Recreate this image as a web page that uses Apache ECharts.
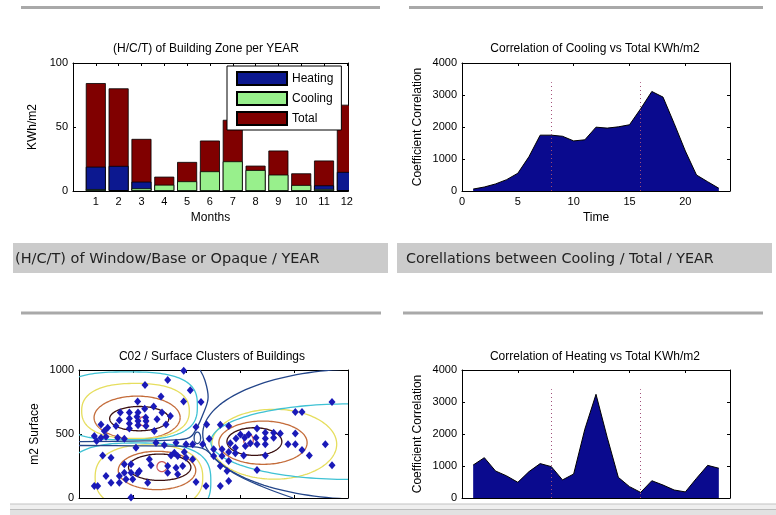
<!DOCTYPE html>
<html><head><meta charset="utf-8">
<script src="https://cdn.jsdelivr.net/npm/echarts/dist/echarts.min.js"></script>
<style>html,body{margin:0;padding:0;background:#fff}#c{width:776px;height:515px}</style>
</head><body><div id="c"></div>
<script>
// ---------- data ----------
const months = [1,2,3,4,5,6,7,8,9,10,11,12];
const heating = [19.0,19.6,7.3,0.3,0,0,0,0,0,0,4.4,14.9];
const cooling = [1.5,0.6,2.1,4.9,7.6,15.4,23.2,16.4,12.8,4.7,1.6,0.4];
const totals  = [84.3,80.2,40.7,11.2,22.7,39.4,55.6,19.8,31.6,13.8,23.8,67.4];
const barNames = ['Heating','Cooling','Total'];

const timeSteps = [1,2,3,4,5,6,7,8,9,10,11,12,13,14,15,16,17,18,19,20,21,22,23];
const coolingCorr = [60,125,220,355,555,1075,1745,1745,1710,1565,1600,1995,1965,2005,2070,2570,3110,2935,2110,1250,500,290,85];
const heatingCorr = [1030,1260,845,690,490,825,1075,980,565,750,2150,3240,1900,645,355,175,540,405,250,190,615,1020,930];
const dividerTimes = [8,16];
const dividerTop = 3400;

const clusterX = [1.090,1.388,1.221,1.524,0.768,0.936,1.097,1.543,1.698,1.078,1.239,0.936,0.750,1.097,1.245,1.450,0.936,1.097,1.245,0.688,0.533,0.409,0.471,0.936,1.617,1.400,1.945,2.268,2.069,2.175,2.373,2.420,0.285,0.328,0.409,0.502,0.719,0.843,1.431,1.586,1.803,1.989,2.113,2.299,1.772,1.059,0.595,0.440,1.958,1.710,1.834,1.989,1.307,0.967,0.843,1.338,1.648,1.803,1.927,2.113,1.121,0.843,0.967,1.090,1.648,1.834,0.874,0.998,0.750,0.502,0.595,0.750,2.175,2.361,1.276,0.347,0.285,0.967,1.227,1.946,1.648,
  4.703,4.021,4.145,2.627,2.782,3.309,3.463,3.618,3.742,4.021,2.999,3.154,2.918,3.079,3.290,3.463,3.618,2.813,3.185,3.309,3.463,3.885,4.021,4.579,2.906,3.092,2.503,2.658,2.782,2.906,3.061,3.463,4.145,4.281,2.503,2.658,2.782,2.627,3.309,4.703,2.782,2.627,2.751];
const clusterY = [753,714,698,792,667,667,667,667,641,635,628,622,607,602,602,615,583,568,562,562,549,575,523,542,575,523,753,750,841,555,575,463,484,445,471,479,471,463,432,414,432,419,419,419,354,393,315,333,359,333,328,315,302,263,263,255,250,237,250,302,211,198,198,193,198,185,146,146,172,172,120,120,125,94,120,94,94,3,883,995,922,
  750,672,672,573,562,542,510,510,503,503,497,497,464,471,471,464,471,427,427,419,419,419,419,419,393,406,380,380,359,349,333,333,375,333,328,328,289,250,219,255,133,94,211];

// closed contour curves (data units): centre, half-axes, squareness, level
const contourCx    = [1.12,1.08,1.05,0.90,1.20, 1.54,1.50,1.45,1.30,1.10, 3.15,3.26,3.42,3.63,5.00,5.30, 2.20];
const contourCy    = [620,628,680,720,600, 245,240,215,160,130, 453,441,432,420,440,500, 470];
const contourRx    = [0.55,0.80,1.00,1.30,0.08, 0.09,0.58,0.72,1.00,1.35, 0.09,0.51,0.82,1.16,2.55,3.00, 0.06];
const contourRy    = [95,168,215,265,35, 39,103,150,255,300, 45,108,169,273,295,510, 45];
const contourShape = [2,2,2.4,2.8,2, 2,2,2,2.4,2.8, 2,2,2,2,2,2, 2];
const contourLevel = [4,3,2,1,5, 5,4,3,2,1, 5,4,3,2,1,0, 0];
const contourColors = ['#24468a','#3fc2d4','#e6de5e','#c46c3a','#3a1010','#cc5a5a'];
// open outer contour lines (data units)
const navyUpperX = [0,1.0,1.7,2.05,2.18,2.32,2.40,2.34,2.25];
const navyUpperY = [440,445,452,472,540,670,790,920,1000];
const navyLowerX = [0,1.0,1.8,2.2,2.36,2.55,2.87,3.40,3.98];
const navyLowerY = [410,408,405,398,375,300,195,90,0];

// ---------- chart ----------
const F = "'Liberation Sans', Arial, Helvetica, sans-serif";
const HF = "'DejaVu Sans', Verdana, sans-serif";
const chart = echarts.init(document.getElementById('c'), null, {renderer:'canvas'});

const grids = [
  {left:73, top:63, width:275, height:128},
  {left:462, top:63, width:268, height:128},
  {left:79, top:370, width:269, height:128},
  {left:462, top:370, width:268, height:128}
];
const line = {show:true, onZero:false, lineStyle:{color:'#000', width:1}};
const tick = {show:true, inside:true, length:3, lineStyle:{color:'#000', width:1}};
const lbl = {color:'#000', fontFamily:F, fontSize:11, margin:5};
function ax(grid, pos, min, max, interval, labelFn, name, nameGap) {
  const a = {gridIndex:grid, type:'value', position:pos, min:min, max:max, interval:interval,
    axisLine:line, axisTick:tick, splitLine:{show:false},
    axisLabel: labelFn ? Object.assign({formatter:labelFn, showMinLabel:true, showMaxLabel:true}, lbl) : {show:false}};
  if (name) {
    a.name = name; a.nameLocation = 'middle'; a.nameGap = nameGap;
    a.nameTextStyle = {color:'#000', fontFamily:F, fontSize:12};
  }
  return a;
}
const monthFmt = v => (Math.abs(v - Math.round(v)) < 1e-6 && v >= 1 && v <= 12) ? String(Math.round(v)) : '';
const fiveFmt = v => (v % 5 === 0) ? String(v) : '';
const plainFmt = v => String(v);

const xAxis = [
  ax(0,'bottom',0,12.05,1,monthFmt,'Months',21),
  ax(0,'top',0,12.05,1,null),
  ax(1,'bottom',0,24,5,fiveFmt,'Time',21),
  ax(1,'top',0,24,5,null),
  ax(2,'bottom',0,5,1,null),
  ax(2,'top',0,5,1,null),
  ax(3,'bottom',0,24,5,null),
  ax(3,'top',0,24,5,null)
];
const yAxis = [
  ax(0,'left',0,100,50,plainFmt,'KWh/m2',34),
  ax(0,'right',0,100,50,null),
  ax(1,'left',0,4000,1000,plainFmt,'Coefficient Correlation',38),
  ax(1,'right',0,4000,1000,null),
  ax(2,'left',0,1000,500,plainFmt,'m2 Surface',38),
  ax(2,'right',0,1000,500,null),
  ax(3,'left',0,4000,1000,plainFmt,'Coefficient Correlation',38),
  ax(3,'right',0,4000,1000,null)
];
xAxis.forEach(a => a.nameTextStyle && (a.nameTextStyle.verticalAlign = 'top'));

const barBorder = {borderColor:'#000', borderWidth:0.8};
const series = [
  {name:'Total', type:'bar', xAxisIndex:0, yAxisIndex:0, barWidth:20, barGap:'-100%', clip:true,
   data: months.map((m,i)=>[m, totals[i]]), itemStyle:Object.assign({color:'#800000'}, barBorder)},
  {name:'Heating', type:'bar', xAxisIndex:0, yAxisIndex:0, stack:'hc', barWidth:20, barGap:'-100%', clip:true,
   data: months.map((m,i)=>[m, heating[i]]), itemStyle:Object.assign({color:'#0c1890'}, barBorder)},
  {name:'Cooling', type:'bar', xAxisIndex:0, yAxisIndex:0, stack:'hc', barWidth:20, barGap:'-100%', clip:true,
   data: months.map((m,i)=>[m, cooling[i]]), itemStyle:Object.assign({color:'#98f08c'}, barBorder)}
];
function areaSeries(xi, yi, vals) {
  return {type:'line', xAxisIndex:xi, yAxisIndex:yi, symbol:'none', smooth:false,
    data: timeSteps.map((t,i)=>[t, vals[i]]),
    lineStyle:{color:'#000', width:1}, areaStyle:{color:'#0a0a8e', opacity:1},
    markLine:{symbol:'none', silent:true, label:{show:false}, animation:false,
      lineStyle:{type:[1,3], color:'#a0507a', width:1},
      data: dividerTimes.map(t => [{coord:[t,0]},{coord:[t,dividerTop]}])}};
}
series.push(areaSeries(2,2,coolingCorr));
series.push(areaSeries(6,6,heatingCorr));
series.push({type:'custom', xAxisIndex:4, yAxisIndex:4, clip:true, z:1,
  data: contourCx.map((c,i)=>[c, contourCy[i], contourRx[i], contourRy[i], contourShape[i], contourLevel[i]]),
  encode:{x:0, y:1},
  renderItem:(params, api) => {
    const c = api.coord([api.value(0), api.value(1)]);
    const s = api.size([api.value(2), api.value(3)]);
    const p = api.value(4);
    const pts = [];
    for (let k=0;k<=160;k++){
      const t = k/160*2*Math.PI, ct = Math.cos(t), st = Math.sin(t);
      pts.push([c[0] + s[0]*Math.sign(ct)*Math.pow(Math.abs(ct), 2/p),
                c[1] - s[1]*Math.sign(st)*Math.pow(Math.abs(st), 2/p)]);
    }
    return {type:'polyline', shape:{points:pts}, style:{stroke:contourColors[api.value(5)], fill:null, lineWidth:1.3}};
  }});
[[navyUpperX, navyUpperY],[navyLowerX, navyLowerY]].forEach(([xs, ys]) => {
  series.push({type:'line', xAxisIndex:4, yAxisIndex:4, z:1, symbol:'none', smooth:0.4, clip:true,
    data: xs.map((x,i)=>[x, ys[i]]), lineStyle:{color:contourColors[0], width:1.3}});
});
series.push({type:'scatter', xAxisIndex:4, yAxisIndex:4, z:3, symbol:'diamond', symbolSize:[7,8],
  data: clusterX.map((x,i)=>[x, clusterY[i]]), itemStyle:{color:'#1a1ab8', opacity:1}});

function txt(x, y, s, font, align, fill) {
  return {type:'text', silent:true, z:10, style:{text:s, x:x, y:y, font:font, fill:fill||'#000',
    textAlign:align||'center', textVerticalAlign:'middle'}};
}
const graphic = [
  {type:'rect', silent:true, shape:{x:21, y:6, width:359, height:3}, style:{fill:'#a9a9a9'}},
  {type:'rect', silent:true, shape:{x:409, y:6, width:354, height:3}, style:{fill:'#a9a9a9'}},
  {type:'rect', silent:true, shape:{x:21, y:311.5, width:360, height:3}, style:{fill:'#a9a9a9'}},
  {type:'rect', silent:true, shape:{x:403, y:311.5, width:360, height:3}, style:{fill:'#a9a9a9'}},
  {type:'rect', silent:true, shape:{x:13, y:243, width:375, height:30}, style:{fill:'#cbcbcb'}},
  {type:'rect', silent:true, shape:{x:397, y:243, width:375, height:30}, style:{fill:'#cbcbcb'}},
  txt(15, 259, '(H/C/T) of Window/Base or Opaque / YEAR', "14.5px " + HF, 'left', '#222'),
  txt(406, 259, 'Corellations between Cooling / Total / YEAR', "14.3px " + HF, 'left', '#222'),
  txt(206, 49, '(H/C/T) of Building Zone per YEAR', "12px " + F),
  txt(595, 49, 'Correlation of Cooling vs Total KWh/m2', "12px " + F),
  txt(212, 357, 'C02 / Surface Clusters of Buildings', "12px " + F),
  txt(595, 357, 'Correlation of Heating vs Total KWh/m2', "12px " + F),
  // page background beyond the right edge of the bar plot (bars on a value axis are not clipped sideways)
  {type:'rect', silent:true, z:100, shape:{x:349, y:58, width:14, height:135}, style:{fill:'#ffffff'}},
  {type:'rect', silent:true, z:20, shape:{x:10, y:504, width:766, height:11}, style:{fill:'#e2e2e2'}},
  {type:'rect', silent:true, z:21, shape:{x:10, y:504, width:766, height:5}, style:{fill:'#efefef'}},
  {type:'rect', silent:true, z:21, shape:{x:10, y:503.5, width:766, height:1}, style:{fill:'#c4c4c4'}},
  {type:'rect', silent:true, z:21, shape:{x:10, y:509, width:766, height:1}, style:{fill:'#bdbdbd'}}
];

chart.setOption({
  animation:false,
  backgroundColor:'#ffffff',
  grid: grids,
  xAxis: xAxis,
  yAxis: yAxis,
  legend: {data:barNames, orient:'vertical', left:227, top:66, backgroundColor:'#fff', borderColor:'#000', borderWidth:1,
    borderRadius:0, padding:[5,8,4,9], itemWidth:50, itemHeight:13, itemGap:5, icon:'rect', selectedMode:false,
    textStyle:{fontFamily:F, fontSize:12, color:'#000', lineHeight:14}},
  series: series,
  graphic: graphic
});
</script></body></html>
